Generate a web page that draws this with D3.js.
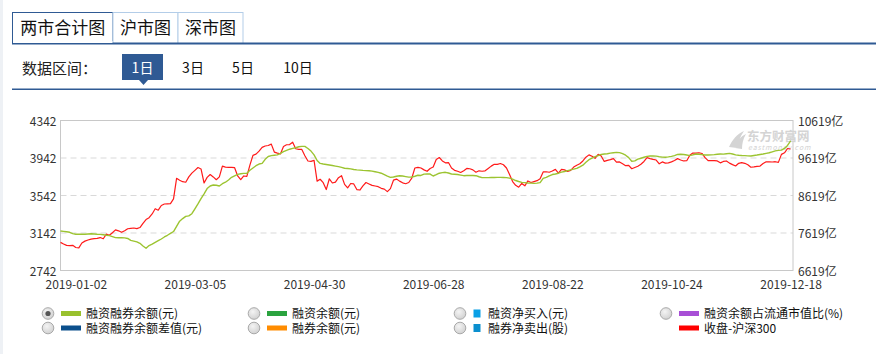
<!DOCTYPE html>
<html>
<head>
<meta charset="utf-8">
<script src="https://cdn.jsdelivr.net/npm/d3@7"></script>
<style>
  html, body { margin: 0; padding: 0; background: #fff; }
  body { width: 881px; height: 354px; overflow: hidden; }
  svg text { font-family: "Microsoft YaHei", "Noto Sans CJK SC", sans-serif; }
</style>
</head>
<body>
<div id="chart"></div>
<script>
// 收盘-沪深300 (left axis), one value per trading day from 2018-12-24 to 2019-12-18
const closeHs300 = [
  3037, 3020, 3005, 3003, 3005, 2982, 2978, 3030, 3050, 3062,
  3072, 3076, 3080, 3088, 3075, 3124, 3112, 3140, 3170, 3160,
  3144, 3160, 3182, 3186, 3190, 3183, 3195, 3240, 3280, 3300,
  3340, 3396, 3380, 3430, 3446, 3448, 3450, 3500, 3720, 3700,
  3684, 3678, 3735, 3775, 3805, 3835, 3820, 3670, 3730, 3760,
  3735, 3705, 3735, 3850, 3840, 3837, 3836, 3833, 3745, 3705,
  3745, 3740, 3860, 3965, 3978, 4010, 4050, 4065, 4070, 4085,
  4000, 3988, 3980, 4060, 4078, 4080, 4105, 4035, 4029, 4028,
  3960, 3905, 3900, 3912, 3690, 3710, 3673, 3600, 3715, 3670,
  3680, 3727, 3748, 3655, 3618, 3665, 3660, 3600, 3595, 3640,
  3675, 3660, 3645, 3638, 3631, 3613, 3605, 3578, 3610, 3700,
  3712, 3690, 3672, 3662, 3675, 3722, 3830, 3837, 3830, 3810,
  3795, 3825, 3840, 3920, 3942, 3905, 3885, 3888, 3830, 3805,
  3795, 3782, 3800, 3825, 3822, 3810, 3785, 3800, 3795, 3800,
  3825, 3850, 3870, 3869, 3878, 3865, 3830, 3760, 3685, 3645,
  3625, 3665, 3640, 3692, 3675, 3685, 3695, 3715, 3788, 3790,
  3785, 3798, 3815, 3775, 3815, 3810, 3793, 3805, 3840, 3860,
  3875, 3905, 3945, 3970, 3955, 3933, 3975, 3958, 3900, 3912,
  3920, 3930, 3892, 3895, 3875, 3855, 3858, 3822, 3835, 3848,
  3870, 3900, 3940, 3930, 3922, 3915, 3875, 3895, 3882, 3885,
  3895, 3910, 3930, 3915, 3905, 3908, 3965, 3990, 3988, 3993,
  3985, 3940, 3908, 3908, 3908, 3905, 3885, 3900, 3905, 3882,
  3866, 3852, 3880, 3888, 3880, 3864, 3838, 3842, 3848, 3851,
  3878, 3896, 3895, 3894, 3897, 3890, 3975, 3992, 4038, 4033
];

// 融资融券余额 (亿, right axis)
const marginBalance = [
  7660, 7650, 7640, 7625, 7590, 7571, 7571, 7571, 7572, 7580,
  7587, 7580, 7572, 7568, 7558, 7545, 7535, 7510, 7482, 7480,
  7480, 7476, 7460, 7410, 7390, 7370, 7330, 7260, 7200, 7270,
  7310, 7355, 7400, 7446, 7500, 7545, 7595, 7645, 7780, 7920,
  7990, 8050, 8062, 8120, 8250, 8380, 8520, 8650, 8790, 8860,
  8886, 8880, 8860, 8920, 8960, 9020, 9090, 9130, 9170, 9185,
  9195, 9200, 9280, 9340, 9400, 9445, 9462, 9570, 9645, 9670,
  9680, 9688, 9730, 9776, 9810, 9840, 9862, 9880, 9905, 9915,
  9915, 9860, 9790, 9690, 9540, 9462, 9445, 9432, 9420, 9405,
  9390, 9375, 9355, 9332, 9325, 9315, 9300, 9290, 9282, 9275,
  9270, 9267, 9255, 9238, 9222, 9200, 9160, 9120, 9090, 9100,
  9118, 9132, 9125, 9110, 9095, 9100, 9120, 9145, 9140, 9175,
  9180, 9178, 9126, 9160, 9200, 9215, 9224, 9205, 9180, 9172,
  9165, 9150, 9134, 9140, 9142, 9138, 9134, 9105, 9081, 9082,
  9083, 9085, 9087, 9090, 9090, 9085, 9081, 9070, 9040, 9005,
  8980, 8957, 8950, 8940, 8935, 8930, 8935, 8948, 9060, 9090,
  9130, 9165, 9180, 9200, 9230, 9245, 9270, 9290, 9310, 9330,
  9370, 9415, 9490, 9560, 9605, 9640, 9670, 9700, 9712, 9720,
  9735, 9745, 9755, 9750, 9720, 9680, 9615, 9520, 9530, 9575,
  9600, 9625, 9650, 9660, 9660, 9655, 9640, 9630, 9624, 9635,
  9650, 9670, 9700, 9704, 9700, 9685, 9668, 9690, 9712, 9705,
  9695, 9686, 9686, 9688, 9695, 9705, 9712, 9708, 9720, 9730,
  9712, 9690, 9680, 9672, 9668, 9663, 9660, 9672, 9685, 9700,
  9712, 9730, 9745, 9770, 9795, 9808, 9815, 9860, 9940, 10060
];

const dateTickIdx = [5, 44, 83, 122, 161, 200, 239];
const dateTickLabels = ["2019-01-02", "2019-03-05", "2019-04-30", "2019-06-28", "2019-08-22", "2019-10-24", "2019-12-18"];
const leftTicks = [2742, 3142, 3542, 3942, 4342];
const rightTicks = [6619, 7619, 8619, 9619, 10619];

const tabs = ["两市合计图", "沪市图", "深市图"];
const ranges = ["1日", "3日", "5日", "10日"];

const legendItems = [
  { name: "融资融券余额(元)", color: "#99c12e", kind: "line", radio: "on" },
  { name: "融资余额(元)", color: "#2ba33f", kind: "line", radio: "off" },
  { name: "融资净买入(元)", color: "#0aa0e6", kind: "box", radio: "off" },
  { name: "融资余额占流通市值比(%)", color: "#a84fd6", kind: "line", radio: "off" },
  { name: "融资融券余额差值(元)", color: "#0b4f8c", kind: "line", radio: "off" },
  { name: "融券余额(元)", color: "#ff8c00", kind: "line", radio: "off" },
  { name: "融券净卖出(股)", color: "#0a8fcf", kind: "box", radio: "off" },
  { name: "收盘-沪深300", color: "#ff0000", kind: "line", radio: null }
];

const W = 881, H = 354;
const plot = { left: 60.5, right: 793, top: 120, bottom: 270 };

const svg = d3.select("#chart").append("svg")
  .attr("width", W).attr("height", H);

// left page strip
svg.append("rect").attr("x", 0).attr("y", 0).attr("width", 3).attr("height", H).attr("fill", "#eef1f5");

// tabs
const tabX = [12.5, 113, 178, 243];
tabs.forEach((t, i) => {
  const x0 = tabX[i], x1 = tabX[i + 1];
  svg.append("rect")
    .attr("x", x0).attr("y", 12.5).attr("width", x1 - x0).attr("height", 31)
    .attr("fill", "#fff")
    .attr("stroke", i === 0 ? "#2f5a94" : "#b3cde8");
  svg.append("text")
    .attr("x", (x0 + x1) / 2).attr("y", 34)
    .attr("text-anchor", "middle")
    .attr("font-size", 17).attr("fill", "#111")
    .text(t);
});
svg.append("rect").attr("x", 12).attr("y", 42.5).attr("width", 864).attr("height", 2).attr("fill", "#2f5a94");
svg.append("rect").attr("x", 13).attr("y", 41).attr("width", 99.5).attr("height", 2).attr("fill", "#fff");

// range selector
svg.append("text").attr("x", 22).attr("y", 74).attr("font-size", 15).attr("fill", "#222").text("数据区间：");
svg.append("rect").attr("x", 122).attr("y", 54).attr("width", 41).attr("height", 26).attr("fill", "#2f5a94");
svg.append("path").attr("d", "M139,80 L143.5,85 L148,80 Z").attr("fill", "#2f5a94");
const rangeX = [142.5, 193, 243, 298];
ranges.forEach((r, i) => {
  svg.append("text")
    .attr("x", rangeX[i]).attr("y", 73)
    .attr("text-anchor", "middle")
    .attr("font-size", 14)
    .attr("fill", i === 0 ? "#fff" : "#111")
    .text(r);
});
svg.append("rect").attr("x", 12).attr("y", 88.5).attr("width", 864).attr("height", 1.5).attr("fill", "#2f5a94");

// scales
const x = d3.scaleLinear().domain([0, closeHs300.length - 1]).range([plot.left, 790.6]);
const yL = d3.scaleLinear().domain([2742, 4342]).range([plot.bottom, plot.top]);
const yR = d3.scaleLinear().domain([6619, 10619]).range([plot.bottom, plot.top]);

// grid
svg.append("g").selectAll("line")
  .data(leftTicks.slice(1, -1))
  .join("line")
  .attr("x1", plot.left).attr("x2", plot.right)
  .attr("y1", d => yL(d) + 0.5).attr("y2", d => yL(d) + 0.5)
  .attr("stroke", "#d9d9d9").attr("stroke-dasharray", "6,4");

svg.append("rect")
  .attr("x", plot.left).attr("y", plot.top + 0.5)
  .attr("width", plot.right - plot.left).attr("height", plot.bottom - plot.top)
  .attr("fill", "none").attr("stroke", "#c8c8c8");

// watermark
const wm = svg.append("g").attr("fill", "#d4d4d4");
wm.append("path").attr("d", "M729,147 C732,140 737,134 744,131 C740,137 738,142 737,148 Z M735,148 C737,141 741,136 746,134 C743,139 742,144 742,149 Z");
wm.append("text").attr("x", 747).attr("y", 141).attr("font-size", 12.5).attr("font-weight", "bold").text("东方财富网");
wm.append("text").attr("x", 748).attr("y", 150).attr("font-size", 7).attr("font-style", "italic").attr("letter-spacing", 0.9).text("eastmoney.com");

// axes
const axisL = svg.append("g")
  .attr("transform", `translate(${plot.left - 4},0)`)
  .call(d3.axisLeft(yL).tickValues(leftTicks).tickSize(0).tickPadding(0).tickFormat(d3.format("d")));
const axisR = svg.append("g")
  .attr("transform", `translate(${plot.right + 5},0)`)
  .call(d3.axisRight(yR).tickValues(rightTicks).tickSize(0).tickPadding(0).tickFormat(d => d + "亿"));
const axisB = svg.append("g")
  .attr("transform", `translate(0,${plot.bottom + 8})`)
  .call(d3.axisBottom(x).tickValues(dateTickIdx).tickSize(0).tickPadding(0)
    .tickFormat((d, i) => dateTickLabels[i]));
[axisL, axisR, axisB].forEach(g => {
  g.select(".domain").remove();
  g.selectAll("text").attr("font-size", 12).attr("fill", "#333")
    .attr("font-family", "\"Microsoft YaHei\", \"Noto Sans CJK SC\", sans-serif");
});
axisL.selectAll("text").attr("dy", "0.45em");
axisR.selectAll("text").attr("dy", "0.45em");
axisB.selectAll("text").attr("dy", "0.95em");

// lines
const lineL = d3.line().x((d, i) => x(i)).y(d => yL(d));
const lineR = d3.line().x((d, i) => x(i)).y(d => yR(d));

svg.append("path").datum(closeHs300)
  .attr("d", lineL).attr("fill", "none")
  .attr("stroke", "#ff1a1a").attr("stroke-width", 1.2).attr("stroke-linejoin", "round");
svg.append("path").datum(marginBalance)
  .attr("d", lineR).attr("fill", "none")
  .attr("stroke", "#9cc431").attr("stroke-width", 1.4).attr("stroke-linejoin", "round");

// legend
const defs = svg.append("defs");
const grad = defs.append("radialGradient").attr("id", "radioGrad").attr("cx", "40%").attr("cy", "35%").attr("r", "70%");
grad.append("stop").attr("offset", "0%").attr("stop-color", "#f4f4f4");
grad.append("stop").attr("offset", "100%").attr("stop-color", "#cfcfcf");

const colX = [48, 254, 460, 666];
const rowY = [313.5, 328];
legendItems.forEach((it, k) => {
  const cx = colX[k % 4], cy = rowY[Math.floor(k / 4)];
  const g = svg.append("g");
  if (it.radio) {
    g.append("circle").attr("cx", cx).attr("cy", cy).attr("r", 5.8)
      .attr("fill", "url(#radioGrad)").attr("stroke", "#a9a9a9");
    if (it.radio === "on") {
      g.append("circle").attr("cx", cx).attr("cy", cy).attr("r", 2.6).attr("fill", "#555");
    }
  }
  if (it.kind === "line") {
    g.append("rect").attr("x", cx + 13).attr("y", cy - 2.5).attr("width", 20).attr("height", 5).attr("fill", it.color);
  } else {
    g.append("rect").attr("x", cx + 13.5).attr("y", cy - 4).attr("width", 7).attr("height", 8).attr("fill", it.color);
  }
  g.append("text")
    .attr("x", it.kind === "line" ? cx + 38 : cx + 28).attr("y", cy + 4.5)
    .attr("font-size", 12).attr("fill", "#111")
    .text(it.name);
});
</script>
</body>
</html>
